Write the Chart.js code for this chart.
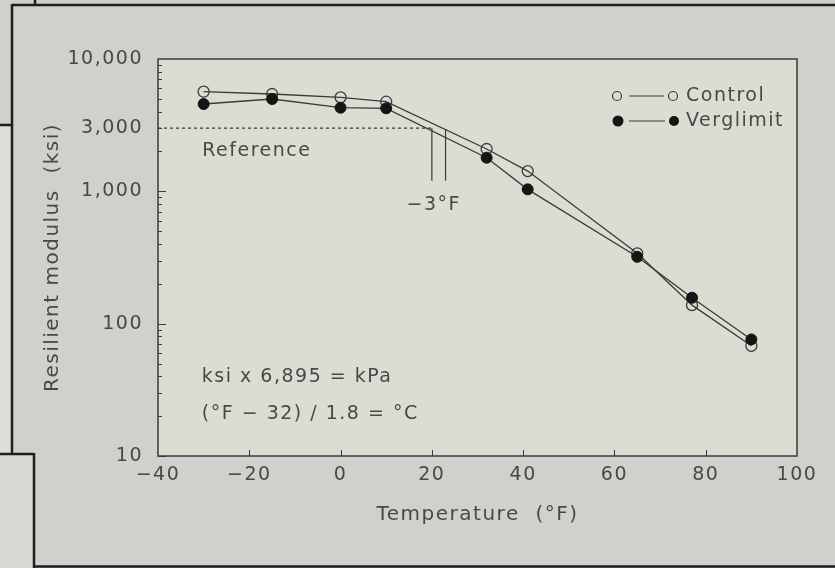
<!DOCTYPE html>
<html><head><meta charset="utf-8">
<script src="https://cdn.jsdelivr.net/npm/chart.js@4/dist/chart.umd.min.js"></script>
<style>html,body{margin:0;padding:0;background:#cfd1cc}#wrap{width:835px;height:568px;position:relative}</style>
</head><body><div id="wrap"><canvas id="c"></canvas></div>
<script>
// ---- data ----
const temperatures = [-30, -15, 0, 10, 32, 41, 65, 77, 90];
const controlModulus = [5660, 5440, 5135, 4755, 2088, 1423, 340, 138, 68];
const verglimitModulus = [4570, 4985, 4285, 4240, 1795, 1035, 320, 157, 76];
const xTickValues = [-40, -20, 0, 20, 40, 60, 80, 100];
const yTickValues = [10, 100, 1000, 3000, 10000];
const referenceModulus = 3000;
const referenceStartTemp = -40;
const referenceEndTemp = 20;
const crossingTemps = [20, 23];
const crossingLowModulus = 1200;
const annotations = [
  {text: 'Reference', x: -30.3, y: 2000, align: 'left'},
  {text: '\u22123\u00b0F', x: 20.4, y: 790, align: 'center'},
  {text: 'ksi x 6,895 = kPa', x: -30.4, y: 39.7, align: 'left'},
  {text: '(\u00b0F \u2212 32) / 1.8 = \u00b0C', x: -30.4, y: 20.7, align: 'left'}
];

const FONT = "'DejaVu Sans'";
const TXT = '#484848';
const LINE = '#3a3a3a';
const SPACING = '1.5px';

function pts(xs, ys) { return xs.map((x, i) => ({x: x, y: ys[i]})); }

const spacingPlugin = {
  id: 'spacing',
  beforeUpdate(chart) { chart.ctx.letterSpacing = SPACING; },
  beforeLayout(chart) { chart.ctx.letterSpacing = SPACING; },
  beforeDraw(chart) { chart.ctx.letterSpacing = SPACING; }
};

const decorPlugin = {
  id: 'decor',
  beforeDraw(chart) {
    const ctx = chart.ctx, W = chart.width, H = chart.height, a = chart.chartArea;
    ctx.save();
    ctx.fillStyle = '#cfd1cc';
    ctx.fillRect(0, 0, W, H);
    ctx.fillStyle = '#dcddd7';
    ctx.fillRect(0, 125, 12, 329);
    ctx.fillStyle = '#d6d8d3';
    ctx.fillRect(0, 454, 34, H - 454);
    ctx.strokeStyle = '#1e1e1e';
    ctx.lineWidth = 2.5;
    ctx.beginPath();
    ctx.moveTo(12, 5); ctx.lineTo(W, 5);
    ctx.moveTo(12, 4); ctx.lineTo(12, 454);
    ctx.moveTo(0, 454); ctx.lineTo(34, 454);
    ctx.moveTo(34, 453); ctx.lineTo(34, H);
    ctx.moveTo(33, 566.5); ctx.lineTo(W, 566.5);
    ctx.moveTo(0, 125); ctx.lineTo(12, 125);
    ctx.moveTo(35, 0); ctx.lineTo(35, 5);
    ctx.stroke();
    ctx.fillStyle = '#dddcd3';
    ctx.fillRect(a.left, a.top, a.right - a.left, a.bottom - a.top);
    ctx.restore();
  },
  afterDraw(chart) {
    const ctx = chart.ctx, a = chart.chartArea;
    const xs = chart.scales.x, ys = chart.scales.y;
    ctx.save();
    ctx.letterSpacing = SPACING;
    ctx.strokeStyle = LINE;
    ctx.lineWidth = 1.5;
    ctx.strokeRect(a.left, a.top, a.right - a.left, a.bottom - a.top);
    ctx.lineWidth = 1;
    ctx.beginPath();
    for (let d = 10; d < 10000; d *= 10) {
      for (let m = 1; m < 10; m++) {
        const py = Math.round(ys.getPixelForValue(d * m)) + 0.5;
        const len = m === 1 ? 8 : 4;
        ctx.moveTo(a.left, py); ctx.lineTo(a.left + len, py);
      }
    }
    xTickValues.forEach(v => {
      if (v <= xs.min || v >= xs.max) return;
      const px = Math.round(xs.getPixelForValue(v)) + 0.5;
      ctx.moveTo(px, a.bottom); ctx.lineTo(px, a.bottom - 6);
    });
    ctx.stroke();
    ctx.fillStyle = TXT;
    ctx.font = '19px ' + FONT;
    ctx.textBaseline = 'middle';
    annotations.forEach(t => {
      ctx.textAlign = t.align;
      ctx.fillText(t.text, xs.getPixelForValue(t.x), ys.getPixelForValue(t.y));
    });
    const lx = a.right - 180, ly1 = a.top + 37, ly2 = a.top + 62;
    ctx.strokeStyle = LINE;
    ctx.lineWidth = 1.2;
    ctx.beginPath();
    ctx.moveTo(lx + 12, ly1); ctx.lineTo(lx + 47, ly1);
    ctx.moveTo(lx + 12, ly2); ctx.lineTo(lx + 48, ly2);
    ctx.stroke();
    ctx.beginPath(); ctx.arc(lx, ly1, 4.5, 0, Math.PI * 2); ctx.stroke();
    ctx.beginPath(); ctx.arc(lx + 56, ly1, 4.5, 0, Math.PI * 2); ctx.stroke();
    ctx.fillStyle = '#151515';
    ctx.beginPath(); ctx.arc(lx + 1, ly2, 5.5, 0, Math.PI * 2); ctx.fill();
    ctx.beginPath(); ctx.arc(lx + 57, ly2, 5, 0, Math.PI * 2); ctx.fill();
    ctx.fillStyle = TXT;
    ctx.textAlign = 'left';
    ctx.font = '19px ' + FONT;
    ctx.fillText('Control', lx + 69, ly1);
    ctx.fillText('Verglimit', lx + 69, ly2);
    ctx.restore();
  }
};

const minusFmt = v => String(v).replace('-', '\u2212');

new Chart(document.getElementById('c'), {
  type: 'scatter',
  data: {
    datasets: [
      {
        label: 'Reference',
        data: [{x: referenceStartTemp, y: referenceModulus}, {x: referenceEndTemp, y: referenceModulus}],
        showLine: true, borderColor: LINE, borderWidth: 1.2, borderDash: [3, 3], pointRadius: 0
      },
      {
        label: 'Verglimit crossing',
        data: [{x: crossingTemps[0], y: referenceModulus}, {x: crossingTemps[0], y: crossingLowModulus}],
        showLine: true, borderColor: LINE, borderWidth: 1.2, pointRadius: 0
      },
      {
        label: 'Control crossing',
        data: [{x: crossingTemps[1], y: referenceModulus * 0.97}, {x: crossingTemps[1], y: crossingLowModulus}],
        showLine: true, borderColor: LINE, borderWidth: 1.2, pointRadius: 0
      },
      {
        label: 'Verglimit',
        data: pts(temperatures, verglimitModulus),
        showLine: true, borderColor: LINE, borderWidth: 1.3,
        pointRadius: 5.5, pointBackgroundColor: '#151515', pointBorderColor: '#151515', pointBorderWidth: 1
      },
      {
        label: 'Control',
        data: pts(temperatures, controlModulus),
        showLine: true, borderColor: LINE, borderWidth: 1.3,
        pointRadius: 5.5, pointBackgroundColor: 'rgba(0,0,0,0)', pointBorderColor: LINE, pointBorderWidth: 1.3
      }
    ]
  },
  options: {
    responsive: true,
    maintainAspectRatio: false,
    animation: false,
    devicePixelRatio: 1,
    layout: {padding: {left: 0, top: 59, right: 38, bottom: 0}},
    plugins: {legend: {display: false}, tooltip: {enabled: false}},
    scales: {
      x: {
        type: 'linear', min: -40, max: 100,
        afterBuildTicks: s => { s.ticks = xTickValues.map(v => ({value: v})); },
        afterFit: s => { s.height = 112; },
        grid: {display: false, drawTicks: false},
        border: {display: false},
        ticks: {font: {family: FONT, size: 19}, color: TXT, padding: 8, maxRotation: 0, callback: v => minusFmt(v)},
        title: {display: true, text: 'Temperature  (\u00b0F)', font: {family: FONT, size: 20}, color: TXT, padding: {top: 0, bottom: 41}}
      },
      y: {
        type: 'logarithmic', min: 10, max: 10000,
        afterBuildTicks: s => { s.ticks = yTickValues.map(v => ({value: v})); },
        afterFit: s => { s.width = 158; },
        grid: {display: false, drawTicks: false},
        border: {display: false},
        ticks: {font: {family: FONT, size: 19}, color: TXT, padding: 15, callback: v => Number(v).toLocaleString('en-US')},
        title: {display: true, text: 'Resilient modulus  (ksi)', font: {family: FONT, size: 20}, color: TXT, padding: {top: 41, bottom: 0}}
      }
    }
  },
  plugins: [spacingPlugin, decorPlugin]
});
</script>
</body></html>
